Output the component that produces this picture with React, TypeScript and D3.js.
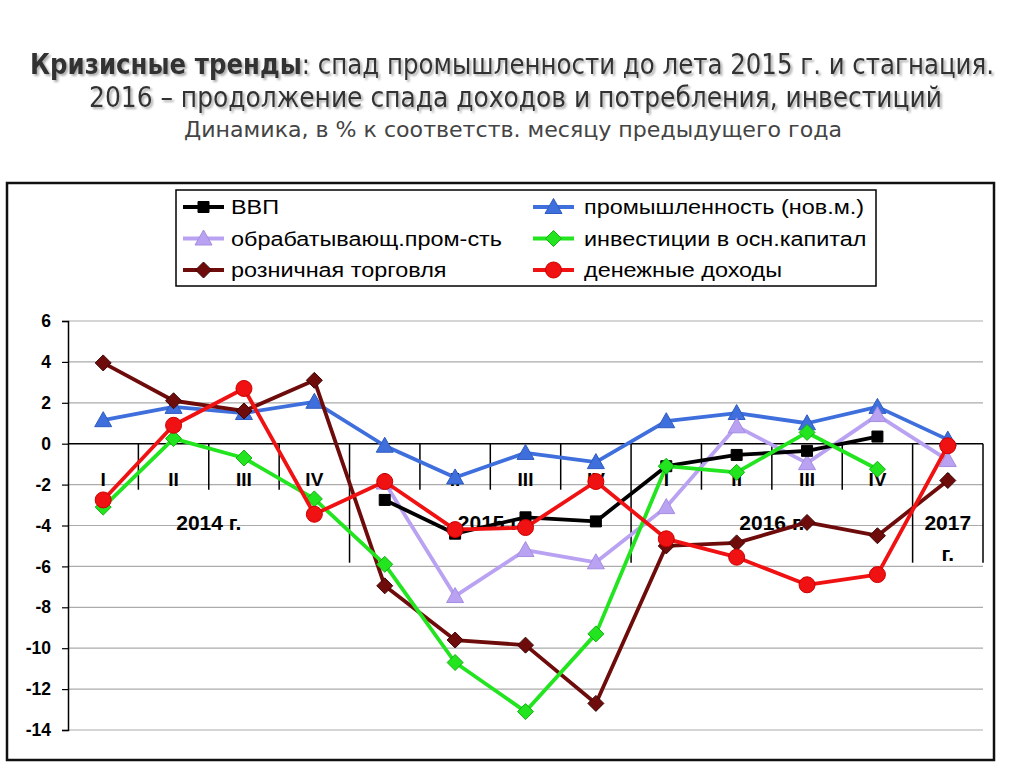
import React, { useEffect, useRef } from "react";
import * as d3 from "d3";

// categories (quarters) and year groups
const quarters = ["I", "II", "III", "IV", "I", "II", "III", "IV", "I", "II", "III", "IV", "I"];
const yearLabels = ["2014 г.", "2015 г.", "2016 г.", "2017 г."];
const yearSpans = [4, 4, 4, 1];
const yTicks = [6, 4, 2, 0, -2, -4, -6, -8, -10, -12, -14];

// series values, % to same month of previous year
const gdp = [null, null, null, null, -2.75, -4.4, -3.6, -3.8, -1.1, -0.55, -0.35, 0.35, null];
const industry = [1.15, 1.8, 1.5, 2.05, -0.1, -1.65, -0.45, -0.9, 1.1, 1.5, 1.0, 1.8, 0.2];
const manufacturing = [null, null, null, null, -1.9, -7.45, -5.2, -5.8, -3.1, 0.85, -0.95, 1.4, -0.8];
const investment = [-3.1, 0.25, -0.7, -2.7, -5.9, -10.7, -13.1, -9.3, -1.1, -1.4, 0.55, -1.25, null];
const retail = [3.95, 2.1, 1.6, 3.1, -6.95, -9.6, -9.85, -12.7, -5.0, -4.85, -3.85, -4.5, -1.8];
const income = [-2.75, 0.9, 2.7, -3.45, -1.85, -4.2, -4.1, -1.85, -4.65, -5.55, -6.9, -6.4, -0.1];

const colors = {
  GDP: "#000000",
  INDUSTRY: "#3f6fdc",
  MANUF: "#b9a2f2",
  INVEST: "#22e41f",
  RETAIL: "#6e0c0c",
  INCOME: "#f01212",
};

type Marker = "square" | "triangle" | "diamond" | "circle";

interface Series {
  name: string;
  values: (number | null)[];
  color: string;
  stroke: string;
  marker: Marker;
}

// draw order (bottom to top)
const series: Series[] = [
  { name: "промышленность (нов.м.)", values: industry, color: colors.INDUSTRY, stroke: "#2f5bc0", marker: "triangle" },
  { name: "обрабатывающ.пром-сть", values: manufacturing, color: colors.MANUF, stroke: "#a58ce0", marker: "triangle" },
  { name: "ВВП", values: gdp, color: colors.GDP, stroke: "#000", marker: "square" },
  { name: "розничная торговля", values: retail, color: colors.RETAIL, stroke: "#3e0505", marker: "diamond" },
  { name: "инвестиции в осн.капитал", values: investment, color: colors.INVEST, stroke: "#16b014", marker: "diamond" },
  { name: "денежные доходы", values: income, color: colors.INCOME, stroke: "#c00", marker: "circle" },
];

// legend layout order: rows left to right
const legendOrder = ["ВВП", "промышленность (нов.м.)", "обрабатывающ.пром-сть", "инвестиции в осн.капитал", "розничная торговля", "денежные доходы"];

function markerPath(m: Marker, cx: number, cy: number) {
  if (m === "square") return `M${cx - 5.5},${cy - 5.5}h11v11h-11Z`;
  if (m === "triangle") return `M${cx},${cy - 8.5}L${cx + 8.5},${cy + 6.5}L${cx - 8.5},${cy + 6.5}Z`;
  if (m === "diamond") return `M${cx},${cy - 8}L${cx + 8},${cy}L${cx},${cy + 8}L${cx - 8},${cy}Z`;
  return d3.arc()({ innerRadius: 0, outerRadius: 8, startAngle: 0, endAngle: 2 * Math.PI }) as string;
}

const W = 1024;
const H = 767;
const plot = { left: 68, right: 983, top: 321, bottom: 730 };

export default function App() {
  const ref = useRef<SVGSVGElement | null>(null);

  useEffect(() => {
    const svg = d3.select(ref.current);
    svg.selectAll("*").remove();

    const defs = svg.append("defs");
    defs
      .append("filter")
      .attr("id", "shadow")
      .append("feDropShadow")
      .attr("dx", 2)
      .attr("dy", 2)
      .attr("stdDeviation", 1.2)
      .attr("flood-color", "#999")
      .attr("flood-opacity", 0.8);

    svg.append("rect").attr("width", W).attr("height", H).attr("fill", "#fff");

    // titles
    const narrow = "'Liberation Sans Narrow', 'DejaVu Sans Condensed', 'Liberation Sans', sans-serif";
    const t1 = svg
      .append("text")
      .attr("x", 30)
      .attr("y", 74)
      .attr("textLength", 964)
      .attr("lengthAdjust", "spacingAndGlyphs")
      .style("font-family", narrow)
      .style("font-size", "28px")
      .attr("fill", "#333")
      .attr("filter", "url(#shadow)");
    t1.append("tspan").style("font-weight", "bold").text("Кризисные тренды");
    t1.append("tspan").text(": спад промышленности до лета 2015 г. и стагнация.");

    svg
      .append("text")
      .attr("x", 89)
      .attr("y", 107)
      .attr("textLength", 853)
      .attr("lengthAdjust", "spacingAndGlyphs")
      .style("font-family", narrow)
      .style("font-size", "28px")
      .attr("fill", "#333")
      .attr("filter", "url(#shadow)")
      .text("2016 – продолжение спада доходов и потребления, инвестиций");

    svg
      .append("text")
      .attr("x", 184)
      .attr("y", 137)
      .attr("textLength", 658)
      .attr("lengthAdjust", "spacingAndGlyphs")
      .style("font-family", narrow)
      .style("font-size", "22px")
      .attr("fill", "#444")
      .text("Динамика, в % к соответств. месяцу предыдущего года");

    // chart border
    svg
      .append("rect")
      .attr("x", 7)
      .attr("y", 183)
      .attr("width", 987)
      .attr("height", 577)
      .attr("fill", "#fff")
      .attr("stroke", "#111")
      .attr("stroke-width", 2.5);

    const x = d3.scaleBand<number>().domain(d3.range(quarters.length)).range([plot.left, plot.right]).padding(0);
    const y = d3.scaleLinear().domain([-14, 6]).range([plot.bottom, plot.top]);
    const cx = (i: number) => (x(i) as number) + x.bandwidth() / 2;
    const font = "'Liberation Sans', Arial, sans-serif";

    // gridlines
    svg
      .append("g")
      .selectAll("line")
      .data(yTicks.filter((t) => t !== 0))
      .enter()
      .append("line")
      .attr("x1", plot.left)
      .attr("x2", plot.right)
      .attr("y1", (d) => y(d))
      .attr("y2", (d) => y(d))
      .attr("stroke", "#ababab")
      .attr("stroke-width", 1.2);

    // y axis
    const yAxis = svg
      .append("g")
      .attr("transform", `translate(${plot.left},0)`)
      .call(
        d3
          .axisLeft(y)
          .tickValues(yTicks)
          .tickSize(6)
          .tickPadding(11)
          .tickFormat((d) => String(d))
      );
    yAxis.select(".domain").attr("stroke", "#000").attr("stroke-width", 1.5);
    yAxis.selectAll(".tick line").attr("stroke", "#000").attr("stroke-width", 1.2);
    yAxis
      .selectAll(".tick text")
      .style("font-family", font)
      .style("font-size", "17.5px")
      .style("font-weight", "bold")
      .attr("fill", "#000");

    // category axis at zero, multi-level
    const y0 = y(0);
    const cat = svg.append("g");
    cat
      .append("line")
      .attr("x1", plot.left)
      .attr("x2", plot.right)
      .attr("y1", y0)
      .attr("y2", y0)
      .attr("stroke", "#000")
      .attr("stroke-width", 1.5);

    const yearStarts = yearSpans.map((_, i) => d3.sum(yearSpans.slice(0, i)));
    const yearBounds = new Set(yearStarts.concat([quarters.length]));
    cat
      .selectAll("line.div")
      .data(d3.range(1, quarters.length + 1))
      .enter()
      .append("line")
      .attr("class", "div")
      .attr("x1", (k) => plot.left + k * x.step())
      .attr("x2", (k) => plot.left + k * x.step())
      .attr("y1", y0)
      .attr("y2", (k) => (yearBounds.has(k) ? y0 + 119 : y0 + 46))
      .attr("stroke", "#000")
      .attr("stroke-width", 1.5);

    cat
      .selectAll("text.q")
      .data(quarters)
      .enter()
      .append("text")
      .attr("class", "q")
      .attr("x", (_, i) => cx(i))
      .attr("y", y0 + 42)
      .attr("text-anchor", "middle")
      .style("font-family", font)
      .style("font-size", "19px")
      .style("font-weight", "bold")
      .text((d) => d);

    yearLabels.forEach((label, i) => {
      const mid = plot.left + (yearStarts[i] + yearSpans[i] / 2) * x.step();
      const parts = yearSpans[i] === 1 ? label.split(" ") : [label];
      parts.forEach((p, j) => {
        cat
          .append("text")
          .attr("x", mid)
          .attr("y", y0 + 86 + j * 31)
          .attr("text-anchor", "middle")
          .style("font-family", font)
          .style("font-size", "21px")
          .style("font-weight", "bold")
          .text(p);
      });
    });

    // series
    const line = d3
      .line<number | null>()
      .defined((d) => d !== null)
      .x((_, i) => cx(i))
      .y((d) => y(d as number));

    series.forEach((s) => {
      const g = svg.append("g");
      g.append("path")
        .attr("d", line(s.values))
        .attr("fill", "none")
        .attr("stroke", s.color)
        .attr("stroke-width", 3.8)
        .attr("stroke-linejoin", "round");
      s.values.forEach((v, i) => {
        if (v === null) return;
        const px = cx(i);
        const py = y(v);
        g.append("path")
          .attr("d", s.marker === "circle" ? markerPath("circle", 0, 0) : markerPath(s.marker, px, py))
          .attr("transform", s.marker === "circle" ? `translate(${px},${py})` : null)
          .attr("fill", s.color)
          .attr("stroke", s.stroke)
          .attr("stroke-width", 1);
      });
    });

    // legend
    const lg = svg.append("g");
    lg.append("rect")
      .attr("x", 176)
      .attr("y", 190)
      .attr("width", 700)
      .attr("height", 96)
      .attr("fill", "#fff")
      .attr("stroke", "#000")
      .attr("stroke-width", 1.5);

    legendOrder.forEach((name, k) => {
      const s = series.find((d) => d.name === name) as Series;
      const col = k % 2;
      const row = Math.floor(k / 2);
      const lx = col === 0 ? 183 : 533;
      const ly = 207 + row * 31.5;
      lg.append("line")
        .attr("x1", lx)
        .attr("x2", lx + 41)
        .attr("y1", ly)
        .attr("y2", ly)
        .attr("stroke", s.color)
        .attr("stroke-width", 3.8);
      const mx = lx + 20.5;
      lg.append("path")
        .attr("d", s.marker === "circle" ? markerPath("circle", 0, 0) : markerPath(s.marker, mx, ly))
        .attr("transform", s.marker === "circle" ? `translate(${mx},${ly})` : null)
        .attr("fill", s.color)
        .attr("stroke", s.stroke)
        .attr("stroke-width", 1);
      const txt = lg
        .append("text")
        .attr("x", col === 0 ? 231 : 584)
        .attr("y", ly + 7)
        .style("font-family", font)
        .style("font-size", "19.5px")
        .attr("fill", "#000")
        .text(s.name);
      // legend text in the reference is horizontally stretched
      const len = (txt.node() as SVGTextElement).getComputedTextLength();
      txt.attr("textLength", len * 1.2).attr("lengthAdjust", "spacingAndGlyphs");
    });
  }, []);

  return (
    <svg
      ref={ref}
      width={W}
      height={H}
      style={{ position: "absolute", left: 0, top: 0, display: "block" }}
    />
  );
}
